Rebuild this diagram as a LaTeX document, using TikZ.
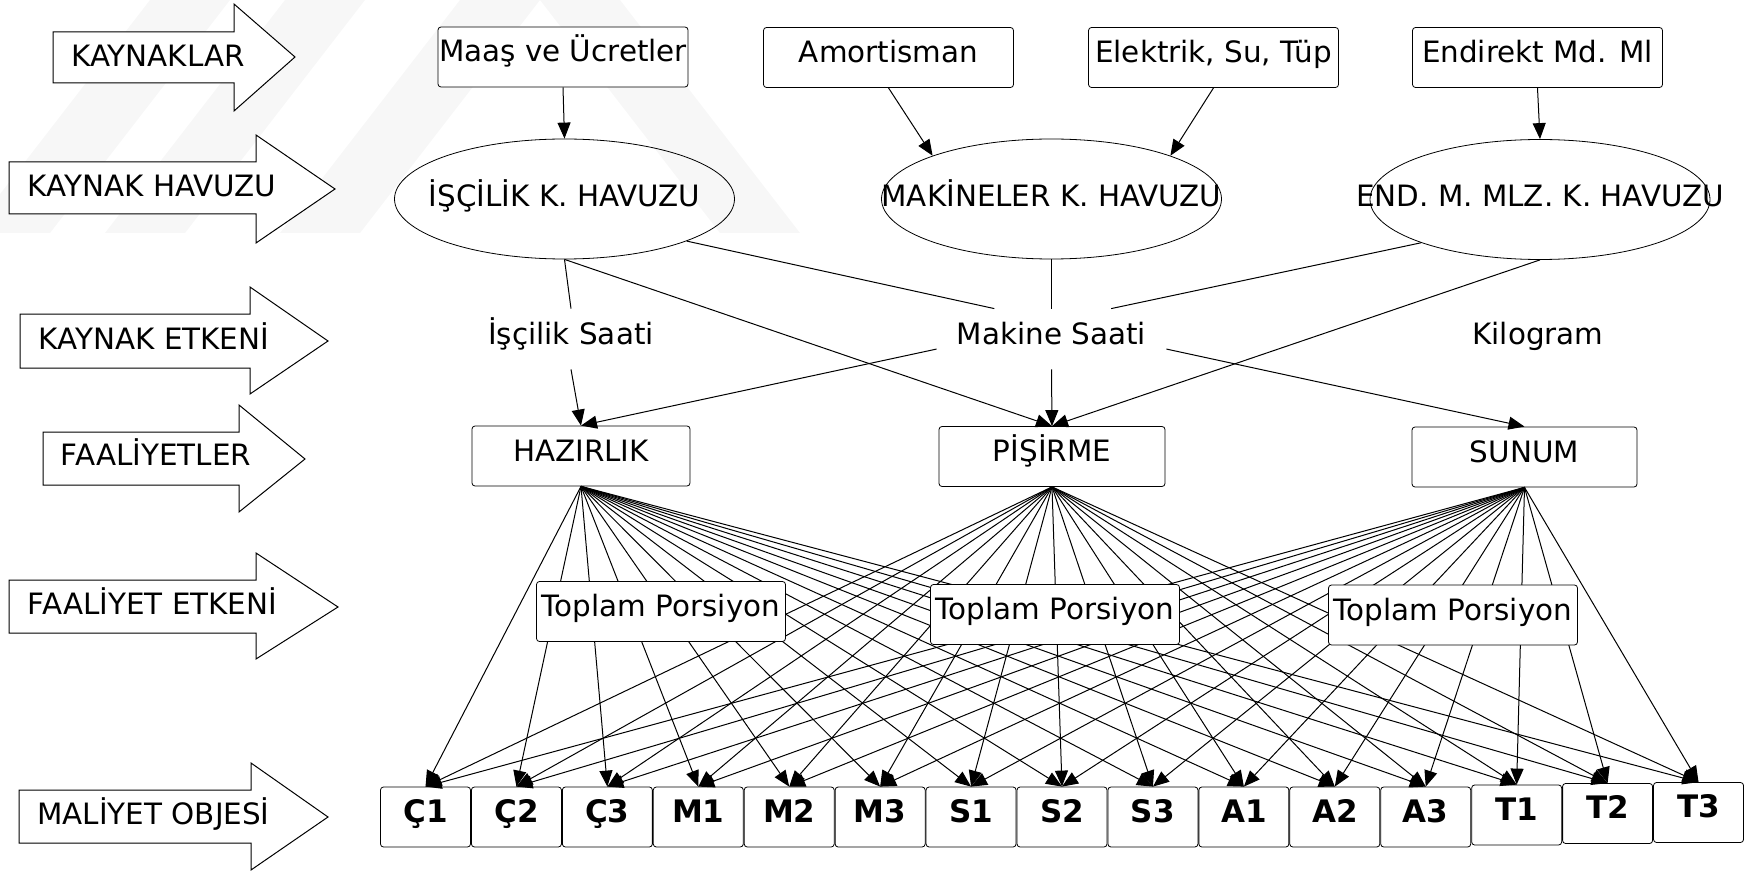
\documentclass[tikz,border=0pt]{standalone}
\usepackage{fontspec}
\setmainfont{DejaVu Sans}
\usetikzlibrary{arrows.meta,shapes.geometric}

\tikzset{
  box/.style={draw,fill=white,rounded corners=1.5pt,inner sep=0pt,
    minimum height=30pt,text height=.75em,text depth=.25em},
  srcbox/.style={box,minimum width=125pt},
  actbox/.style={box},
  objbox/.style={box,minimum width=45pt,font=\fontsize{15.5}{18}\selectfont\bfseries},
  pool/.style={draw,ellipse,inner sep=0pt,minimum width=170pt,minimum height=60pt,
    text height=.72em,text depth=0pt},
  driver/.style={inner xsep=10pt,inner ysep=0pt,minimum height=30pt,
    text height=.75em,text depth=.2em},
  rowlabel/.style={inner sep=0pt,text height=.729em,text depth=0pt},
  blockarrow/.style={draw,fill=white,line width=0.5pt},
  link/.style={draw,line width=0.5pt},
  flow/.style={link,-{Triangle[length=8pt,width=6.5pt]}},
}

\begin{document}
\begin{tikzpicture}[x=0.5pt,y=-0.5pt,font=\fontsize{14.7}{17}\selectfont]
    \useasboundingbox (0,0) rectangle (1753,872);

    % faint watermark
    \begin{scope}[fill=black!3]
    \fill (150,0) -- (230,0) -- (50,233) -- (-30,233) -- cycle;
    \fill (285,0) -- (365,0) -- (185,233) -- (105,233) -- cycle;
    \fill (460,0) -- (540,0) -- (360,233) -- (280,233) -- cycle;
    \fill (540,0) -- (620,0) -- (800,233) -- (720,233) -- cycle;
    \end{scope}

    % row arrows
    \draw[blockarrow] (53,32) -- (234,32) -- (234,4) -- (295,57) -- (234,111) -- (234,83) -- (53,83) -- cycle;
    \draw[blockarrow] (9,162) -- (256,162) -- (256,135) -- (335,189) -- (256,243) -- (256,214) -- (9,214) -- cycle;
    \draw[blockarrow] (20,314) -- (250,314) -- (250,287) -- (328,341) -- (250,394) -- (250,368) -- (20,368) -- cycle;
    \draw[blockarrow] (43,432) -- (239,432) -- (239,405) -- (305,459) -- (239,512) -- (239,485) -- (43,485) -- cycle;
    \draw[blockarrow] (9,580) -- (256,580) -- (256,553) -- (338,607) -- (256,659) -- (256,633) -- (9,633) -- cycle;
    \draw[blockarrow] (19,790) -- (251,790) -- (251,763) -- (328,817) -- (251,870) -- (251,843) -- (19,843) -- cycle;

    \node[rowlabel] (rsrc) at (158,59) {KAYNAKLAR};
    \node[rowlabel] (rpool) at (152,189) {KAYNAK HAVUZU};
    \node[rowlabel] (rdrv) at (154,342) {KAYNAK ETKENİ};
    \node[rowlabel] (ract) at (156,458) {FAALİYETLER};
    \node[rowlabel] (radrv) at (152.5,607) {FAALİYET ETKENİ};
    \node[rowlabel] (robj) at (153.5,817) {MALİYET OBJESİ};

    % resources
    \node[srcbox] (maas) at (563,57) {Maaş ve Ücretler};
    \node[srcbox] (amort) at (888.5,57.5) {Amortisman};
    \node[srcbox] (elek) at (1213.5,57.5) {Elektrik, Su, Tüp};
    \node[srcbox] (endmd) at (1537.5,57.5) {Endirekt Md. Ml};

    % pools
    \node[pool] (iscpool) at (564.5,199) {\makebox[0pt]{İŞÇİLİK K. HAVUZU}};
    \node[pool] (makpool) at (1051.5,199) {\makebox[0pt]{MAKİNELER K. HAVUZU}};
    \node[pool] (endpool) at (1540,199.5) {\makebox[0pt]{END. M. MLZ. K. HAVUZU}};

    \draw[flow] (maas.south) -- (iscpool.north);
    \draw[flow] (amort.south) -- (makpool.160);
    \draw[flow] (elek.south) -- (makpool.20);
    \draw[flow] (endmd.south) -- (endpool.north);

    % resource drivers
    \node[driver] (iscsaat) at (571,339) {İşçilik Saati};
    \node[driver] (maksaat) at (1051.5,339) {Makine Saati};
    \node[driver] (kilo) at (1538,339) {Kilogram};

    % activities
    \node[actbox,minimum width=109pt] (hazir) at (581,456) {HAZIRLIK};
    \node[actbox,minimum width=113pt] (pis) at (1052,456.5) {PİŞİRME};
    \node[actbox,minimum width=112.5pt] (sunum) at (1524.5,457) {SUNUM};

    \draw[link] (iscpool.south) -- (iscsaat.north);
    \draw[flow] (iscsaat.south) -- (hazir.north);
    \draw[link] (iscpool.-19) -- (maksaat.152);
    \draw[link] (makpool.south) -- (maksaat.north);
    \draw[link] (endpool.200) -- (maksaat.27);
    \draw[flow] (iscpool.south) -- (pis.north);
    \draw[flow] (endpool.south) -- (pis.north);
    \draw[flow] (maksaat.185) -- (hazir.north);
    \draw[flow] (maksaat.south) -- (pis.north);
    \draw[flow] (maksaat.-5) -- (sunum.north);

    % cost objects
    \foreach \obj/\txt/\yy [count=\i from 0] in {c1/Ç1/817,c2/Ç2/817,c3/Ç3/817,
        m1/M1/817,m2/M2/817,m3/M3/817,s1/S1/817,s2/S2/817,s3/S3/817,
        a1/A1/817,a2/A2/817,a3/A3/817,t1/T1/815,t2/T2/813.5,t3/T3/812.5}
      \node[objbox] (\obj) at ({425.5+90.93*\i},\yy) {\txt};

    \foreach \act in {hazir,pis,sunum}
      \foreach \obj in {c1,c2,c3,m1,m2,m3,s1,s2,s3,a1,a2,a3,t1,t2,t3}
        \draw[flow] (\act.south) -- (\obj.north);

    % activity drivers (on top of the lines)
    \node[actbox,minimum width=124.5pt] (top1) at (661,611.5) {Toplam Porsiyon};
    \node[actbox,minimum width=124.5pt] (top2) at (1055,614.5) {Toplam Porsiyon};
    \node[actbox,minimum width=124.5pt] (top3) at (1453,615) {Toplam Porsiyon};
\end{tikzpicture}
\end{document}
